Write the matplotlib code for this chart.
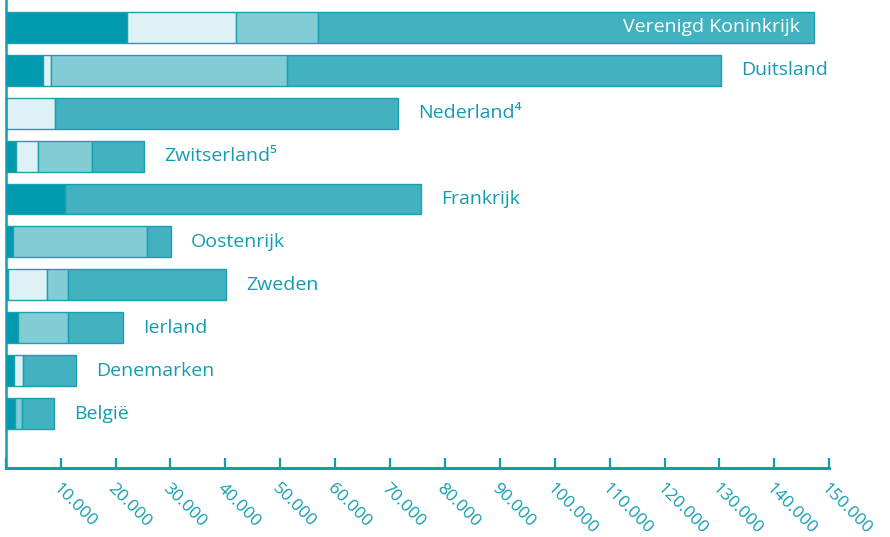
import matplotlib.pyplot as plt
import numpy as np

# Data (segment lengths, stacked left to right)
countries = ['Verenigd Koninkrijk', 'Duitsland', 'Nederland\u2074', 'Zwitserland\u2075', 'Frankrijk',
             'Oostenrijk', 'Zweden', 'Ierland', 'Denemarken', 'België']
seg_dark = [22100, 6800, 0, 1900, 10850, 1300, 400, 2250, 1500, 1650]
seg_light = [19900, 1450, 9000, 4000, 0, 0, 7200, 0, 1600, 0]
seg_mid = [14800, 43050, 0, 9900, 0, 24400, 3800, 9150, 0, 1300]
seg_main = [90500, 78900, 62500, 9400, 64750, 4350, 28700, 10000, 9700, 5800]
xticks = list(range(0, 150001, 10000))

TEAL = '#129cb0'
colors = ['#0099ad', '#dff1f5', '#82ccd6', '#42b1c0']
edge = '#1d9fb2'

plt.rcParams['font.family'] = ['Open Sans', 'DejaVu Sans']

fig = plt.figure(figsize=(8.9, 5.37), dpi=100)
ax = fig.add_axes([5.7 / 890, 1 - 468 / 537, (829.3 - 5.7) / 890, 468 / 537])

y = np.arange(len(countries))
left = np.zeros(len(countries))
for seg, c in zip([seg_dark, seg_light, seg_mid, seg_main], colors):
    vals = np.array(seg, dtype=float)
    bars = ax.barh(y, vals, left=left, height=0.72, color=c, edgecolor=edge, linewidth=1)
    for b, v in zip(bars, vals):
        if v == 0:
            b.set_visible(False)
    left += vals

totals = left
for i, (name, tot) in enumerate(zip(countries, totals)):
    if i == 0:
        ax.text(tot - 2600, i, name, color='white', ha='right', va='center', fontsize=14)
    else:
        ax.text(tot + 3700, i, name, color=TEAL, ha='left', va='center', fontsize=14)

ax.set_xlim(0, 150000)
ax.set_ylim(10.27, -0.64)
for s in ['top', 'right']:
    ax.spines[s].set_visible(False)
ax.spines['left'].set_color(TEAL)
ax.spines['left'].set_linewidth(1.8)
ax.spines['bottom'].set_color(TEAL)
ax.spines['bottom'].set_linewidth(2.2)
ax.set_yticks([])
ax.set_xticks(xticks)
ax.set_xticklabels([''] + ['{:,}'.format(t).replace(',', '.') for t in xticks[1:]])
ax.tick_params(axis='x', direction='in', length=7.5, width=1.6, color=TEAL, labelcolor=TEAL,
               labelsize=12.5, pad=9)
for lab in ax.get_xticklabels():
    lab.set_rotation(-45)
    lab.set_ha('left')
    lab.set_va('top')
    lab.set_rotation_mode('anchor')

fig.savefig('out.png', dpi=100)
